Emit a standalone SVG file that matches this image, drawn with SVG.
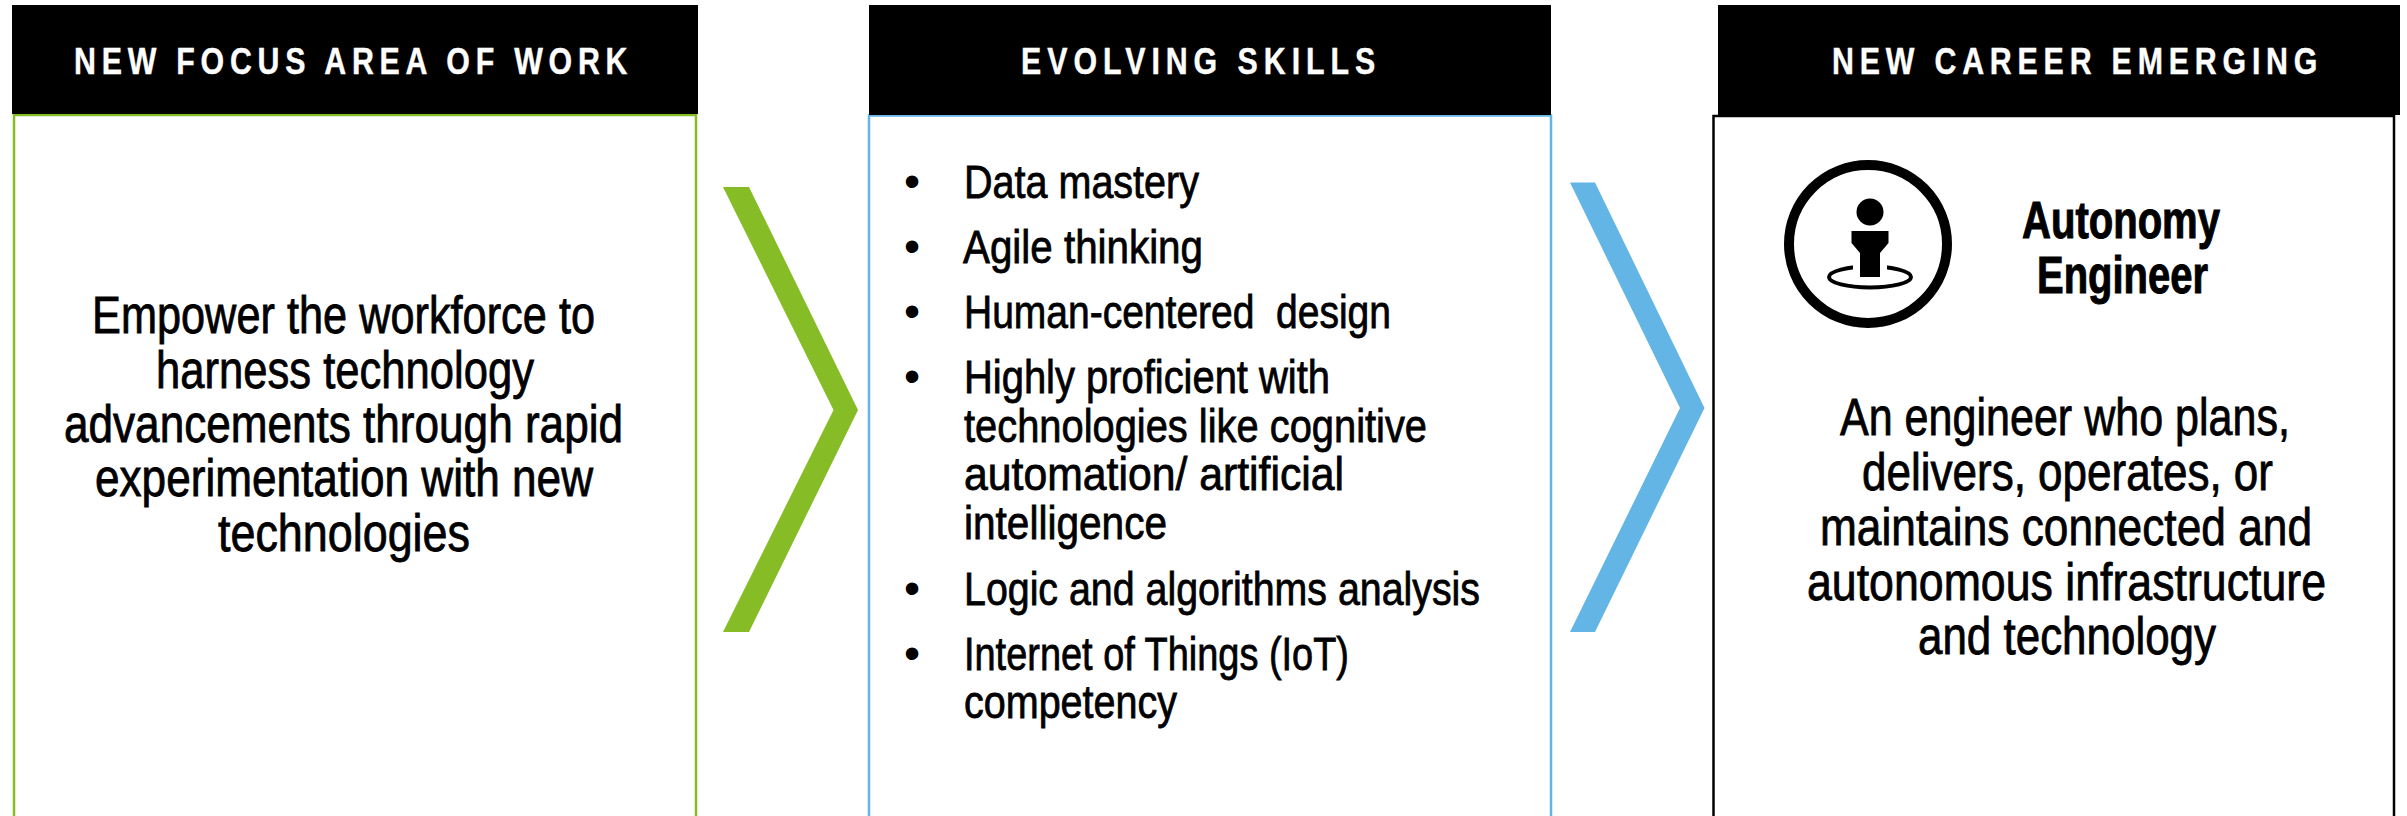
<svg xmlns="http://www.w3.org/2000/svg" width="2407" height="816" viewBox="0 0 2407 816">
<style>
text{font-family:"Liberation Sans",Arial,sans-serif;fill:#000}
.h{font-size:37px;font-weight:700;fill:#fff;stroke:#fff;stroke-width:.4px}
.b{font-size:51px;stroke:#000;stroke-width:.8px}
.l{font-size:47px;stroke:#000;stroke-width:.8px}
.u{font-size:46px}
.t{font-size:51px;font-weight:700;stroke:#000;stroke-width:1px}
</style>
<rect width="2407" height="816" fill="#fff"/>
<g id="focus">
<rect x="14" y="115" width="682" height="710" fill="#fff" stroke="#86bc25" stroke-width="2.5"/>
<rect x="12" y="5" width="686" height="109" fill="#000"/>
<text class="h" transform="translate(74 74) scale(.82 1)" textLength="675" lengthAdjust="spacing">NEW FOCUS AREA OF WORK</text>
<text class="b" x="92" y="333" textLength="503" lengthAdjust="spacingAndGlyphs">Empower the workforce to</text>
<text class="b" x="156" y="387.500" textLength="378" lengthAdjust="spacingAndGlyphs">harness technology</text>
<text class="b" x="64" y="441.500" textLength="559" lengthAdjust="spacingAndGlyphs">advancements through rapid</text>
<text class="b" x="95" y="496" textLength="498" lengthAdjust="spacingAndGlyphs">experimentation with new</text>
<text class="b" x="218" y="550.500" textLength="252" lengthAdjust="spacingAndGlyphs">technologies</text>
</g>
<g id="skills">
<rect x="869" y="115.500" width="682" height="710" fill="#fff" stroke="#62b5e5" stroke-width="2.500"/>
<rect x="869" y="5" width="682" height="110" fill="#000"/>
<text class="h" transform="translate(1021 74) scale(.82 1)" textLength="432" lengthAdjust="spacing">EVOLVING SKILLS</text>
<text class="u" x="904" y="197">•</text><text class="l" x="964" y="198" textLength="235" lengthAdjust="spacingAndGlyphs">Data mastery</text>
<text class="u" x="904" y="262">•</text><text class="l" x="963" y="263" textLength="240" lengthAdjust="spacingAndGlyphs">Agile thinking</text>
<text class="u" x="904" y="327">•</text><text class="l" x="964" y="328" textLength="427" lengthAdjust="spacingAndGlyphs" xml:space="preserve">Human-centered  design</text>
<text class="u" x="904" y="392">•</text><text class="l" x="964" y="393" textLength="366" lengthAdjust="spacingAndGlyphs">Highly proficient with</text>
<text class="l" x="964" y="441.500" textLength="463" lengthAdjust="spacingAndGlyphs">technologies like cognitive</text>
<text class="l" x="964" y="490" textLength="380" lengthAdjust="spacingAndGlyphs">automation/ artificial</text>
<text class="l" x="964" y="539" textLength="203" lengthAdjust="spacingAndGlyphs">intelligence</text>
<text class="u" x="904" y="604">•</text><text class="l" x="964" y="605" textLength="516" lengthAdjust="spacingAndGlyphs">Logic and algorithms analysis</text>
<text class="u" x="904" y="668.500">•</text><text class="l" x="964" y="669.500" textLength="385" lengthAdjust="spacingAndGlyphs">Internet of Things (IoT)</text>
<text class="l" x="964" y="718" textLength="213" lengthAdjust="spacingAndGlyphs">competency</text>
</g>
<g id="career">
<rect x="1713.500" y="116" width="680.500" height="710" fill="#fff" stroke="#000" stroke-width="2.500"/>
<rect x="1718" y="5" width="682" height="110" fill="#000"/>
<text class="h" transform="translate(1832 74) scale(.82 1)" textLength="592" lengthAdjust="spacing">NEW CAREER EMERGING</text>
<g id="career-icon">
<circle cx="1868" cy="244" r="79" fill="none" stroke="#000" stroke-width="10"/>
<ellipse cx="1870" cy="277" rx="41" ry="10.500" fill="none" stroke="#000" stroke-width="4"/>
<rect x="1853" y="258" width="34" height="12" fill="#fff"/>
<circle cx="1870" cy="212" r="13.500" fill="#000"/>
<path d="M1851.500 231H1888.500V243L1880 253V277H1860V253L1851.500 243Z" fill="#000"/>
</g>
<text class="t" x="2022" y="238" textLength="198" lengthAdjust="spacingAndGlyphs">Autonomy</text>
<text class="t" x="2037" y="293" textLength="171" lengthAdjust="spacingAndGlyphs">Engineer</text>
<text class="b" x="1840" y="435" textLength="450" lengthAdjust="spacingAndGlyphs">An engineer who plans,</text>
<text class="b" x="1862" y="490" textLength="411" lengthAdjust="spacingAndGlyphs">delivers, operates, or</text>
<text class="b" x="1820" y="545" textLength="492" lengthAdjust="spacingAndGlyphs">maintains connected and</text>
<text class="b" x="1807" y="599.500" textLength="519" lengthAdjust="spacingAndGlyphs">autonomous infrastructure</text>
<text class="b" x="1918" y="654" textLength="298" lengthAdjust="spacingAndGlyphs">and technology</text>
</g>
<g id="connectors">
<path d="M723 187H749L858 410L749 632H723L833.500 410Z" fill="#86bc25"/>
<path d="M1570 182.500H1595L1704.500 408L1595 632H1570L1680 408Z" fill="#62b5e5"/>
</g>
</svg>
